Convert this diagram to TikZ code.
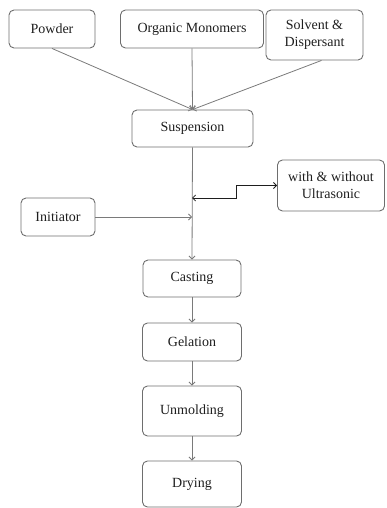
\documentclass[tikz,border=0pt]{standalone}
\usepackage{fontspec}
\setmainfont{Liberation Serif}
\usetikzlibrary{positioning,arrows.meta}
\definecolor{boxgray}{HTML}{6E6E6E}
\definecolor{linegray}{HTML}{7A7A7A}
\definecolor{textgray}{HTML}{1E1E1E}

\begin{document}
\begin{tikzpicture}[
  x = 1pt,
  y = -1pt,
  box/.style = {
    draw = boxgray,
    line width = 0.9pt,
    rounded corners = 5pt,
    align = center,
    inner sep = 0pt,
    text = textgray,
    font = \fontsize{14}{17}\selectfont,
  },
  flow/.style = {draw = linegray, line width = 0.8pt},
  >={Straight Barb[length=3pt,width=6pt]},
]

  \useasboundingbox (0,0) rectangle (386,508);

  % inputs
  \node[box, minimum width=86pt, minimum height=38pt] (powder) at (52,29) {Powder};
  \node[box, minimum width=143pt, minimum height=38pt] (organic) at (192,29) {Organic Monomers};
  \node[box, minimum width=97pt, minimum height=50pt] (solvent) at (314.5,35) {Solvent \&\\Dispersant};

  \node[box, minimum width=121pt, minimum height=37pt] (suspension) at (192.5,128.5) {Suspension};
  \node[box, minimum width=107pt, minimum height=51pt] (ultra) at (331,185.5) {with \& without\\Ultrasonic};
  \node[box, minimum width=74pt, minimum height=38pt] (initiator) at (58,217) {Initiator};

  % process chain
  \node[box, minimum width=98pt, minimum height=37pt] (casting) at (192,278.5) {Casting};
  \node[box, minimum width=99pt, minimum height=38pt] (gelation) at (192,342) {Gelation};
  \node[box, minimum width=99pt, minimum height=50pt] (unmolding) at (192,411) {Unmolding};
  \node[box, minimum width=99pt, minimum height=46pt] (drying) at (192,484) {Drying};

  \coordinate (jU) at (192,198);
  \coordinate (jI) at (192,217);

  \draw[flow,->] (powder.south) -- (suspension.north);
  \draw[flow,->] (organic.south) -- (suspension.north);
  \draw[flow,->] ([xshift=7pt]solvent.south) -- (suspension.north);

  \draw[flow,->] (suspension.south) -- (casting.north);
  \draw[flow,->] (initiator.east) -- (jI);
  \draw[<->, draw=textgray, line width=0.8pt] (ultra.west) -| ([xshift=44pt]jU) -- (jU);

  \draw[flow,->] (casting.south) -- (gelation.north);
  \draw[flow,->] (gelation.south) -- (unmolding.north);
  \draw[flow,->] (unmolding.south) -- (drying.north);

\end{tikzpicture}
\end{document}
